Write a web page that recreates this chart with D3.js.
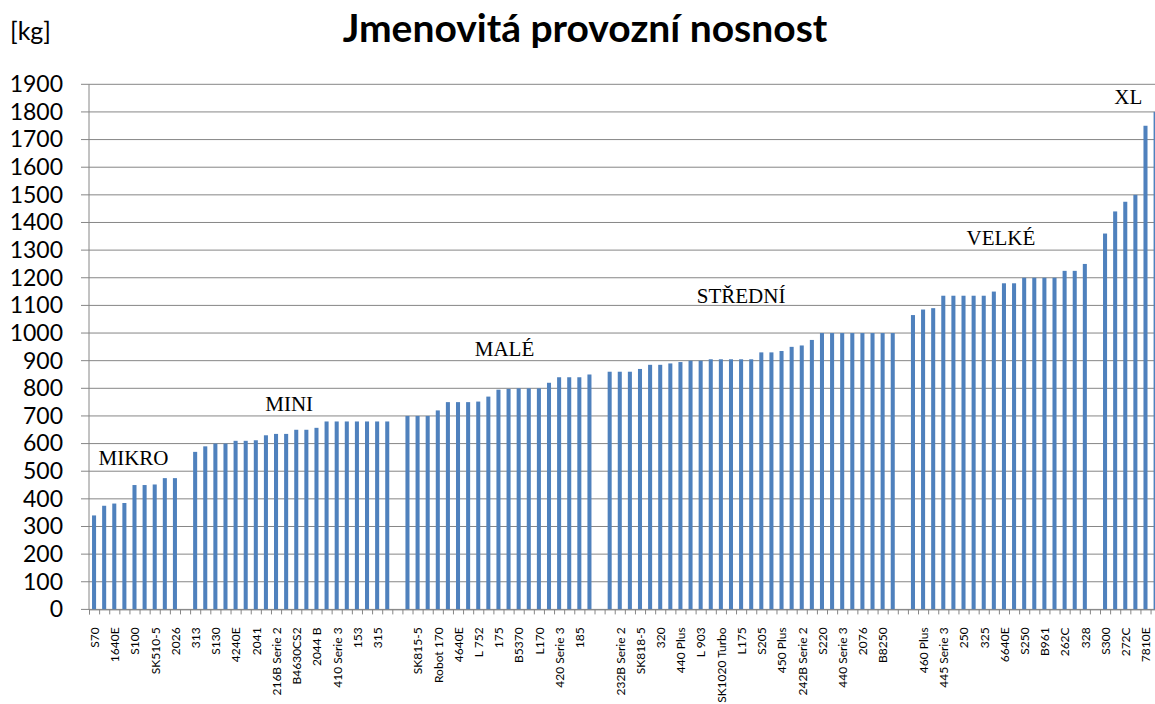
<!DOCTYPE html>
<html>
<head>
<meta charset="utf-8">
<script src="https://cdn.jsdelivr.net/npm/d3@7"></script>
<style>
    body { margin: 0; background: #fff; }
    svg { display: block; font-family: Lato, 'Open Sans', sans-serif; }
</style>
</head>
<body>
<div class="chart"></div>
<script>
// Group names shown above each block of bars
const groupNames = ['MIKRO', 'MINI', 'MALÉ', 'STŘEDNÍ', 'VELKÉ', 'XL']

// Machine names per group ('' where Excel skipped the label)
const mikroNames = ['S70', '', '1640E', '', 'S100', '', 'SK510-5', '', '2026']
const miniNames = ['313', '', 'S130', '', '4240E', '', '2041', '', '216B Serie 2', '', 'B4630CS2', '', '2044 B', '', '410 Serie 3', '', '153', '', '315', '']
const maleNames = ['', 'SK815-5', '', 'Robot 170', '', '4640E', '', 'L 752', '', '175', '', 'B5370', '', 'L170', '', '420 Serie 3', '', '185', '']
const stredniNames = ['', '232B Serie 2', '', 'SK818-5', '', '320', '', '440 Plus', '', 'L 903', '', 'SK1020 Turbo', '', 'L175', '', 'S205', '', '450 Plus', '', '242B Serie 2', '', 'S220', '', '440 Serie 3', '', '2076', '', 'B8250', '']
const velkeNames = ['', '460 Plus', '', '445 Serie 3', '', '250', '', '325', '', '6640E', '', 'S250', '', 'B961', '', '262C', '', '328']
const xlNames = ['S300', '', '272C', '', '7810E', '']

// Rated operating capacity [kg]
const mikroValues = [340, 375, 383, 385, 450, 450, 452, 475, 475]
const miniValues = [570, 590, 600, 600, 610, 610, 612, 630, 635, 635, 650, 650, 657, 680, 680, 680, 680, 680, 680, 680]
const maleValues = [700, 700, 700, 720, 750, 750, 750, 752, 770, 795, 798, 800, 800, 800, 820, 840, 840, 840, 850]
const stredniValues = [860, 860, 860, 870, 885, 885, 890, 895, 900, 900, 905, 905, 905, 905, 905, 930, 930, 935, 950, 955, 975, 1000, 1000, 1000, 1000, 1000, 1000, 1000, 1000]
const velkeValues = [1065, 1085, 1090, 1135, 1135, 1135, 1135, 1135, 1150, 1180, 1180, 1200, 1200, 1200, 1200, 1225, 1225, 1250]
const xlValues = [1360, 1440, 1475, 1500, 1750, 1800]

const yTicks = d3.range(0, 2000, 100)

// where the group captions sit: [slot, kg]
const captionAnchors = [[4.4, 522], [19.8, 718], [41.1, 917], [64.5, 1109], [90.2, 1318], [102.8, 1829]]

const groups = [
    { names: mikroNames, values: mikroValues },
    { names: miniNames, values: miniValues },
    { names: maleNames, values: maleValues },
    { names: stredniNames, values: stredniValues },
    { names: velkeNames, values: velkeValues },
    { names: xlNames, values: xlValues }
]

// one empty category between groups, as in the spreadsheet
const slots = []
groups.forEach((grp, gi) => {
    if (gi > 0) slots.push({ name: '', value: null })
    grp.names.forEach((n, i) => slots.push({ name: n, value: grp.values[i] }))
})

const margin = { top: 84.3, left: 89 }
const slotWidth = 10.11
const width = slots.length * slotWidth
const height = 525.1
const gridColour = '#868686'
const barColour = '#4F81BD'

const svg = d3.select('.chart')
    .append('svg')
    .attr('width', 1155)
    .attr('height', 704)

svg.append('text')
    .attr('x', 585)
    .attr('y', 42)
    .attr('text-anchor', 'middle')
    .style('font-size', '39px')
    .style('font-weight', 'bold')
    .text('Jmenovitá provozní nosnost')

svg.append('text')
    .attr('x', 10)
    .attr('y', 40)
    .style('font-size', '25px')
    .text('[kg]')

const canvas = svg.append('g')
    .attr('transform', `translate(${margin.left}, ${margin.top})`)

const xScale = d3.scaleBand()
    .domain(d3.range(slots.length))
    .range([0, width])
    .paddingInner(0.6)
    .paddingOuter(0.3)

const yScale = d3.scaleLinear()
    .domain([0, 1900])
    .range([height, 0])

// gridlines
canvas.append('g')
    .selectAll('line')
    .data(yTicks)
    .enter().append('line')
    .attr('x1', -8)
    .attr('x2', width)
    .attr('y1', d => yScale(d))
    .attr('y2', d => yScale(d))
    .style('stroke', gridColour)
    .style('stroke-width', 1)

// y axis
const gY = canvas.append('g')
    .call(d3.axisLeft(yScale).tickValues(yTicks).tickSize(0).tickPadding(26).tickFormat(d3.format('d')))
gY.select('.domain').remove()
gY.selectAll('text').style('font-size', '23px').style('fill', '#000').style('font-family', 'Lato, sans-serif')
canvas.append('line')
    .attr('x1', 0).attr('x2', 0)
    .attr('y1', yScale(1900)).attr('y2', height)
    .style('stroke', gridColour)

// bars
canvas.append('g')
    .selectAll('rect')
    .data(slots.map((s, i) => ({ ...s, i })).filter(s => s.value !== null))
    .enter().append('rect')
    .attr('x', d => xScale(d.i))
    .attr('width', xScale.bandwidth())
    .attr('y', d => yScale(d.value))
    .attr('height', d => height - yScale(d.value))
    .style('fill', barColour)

// category ticks between slots
const tickScale = d3.scaleLinear().domain([0, slots.length]).range([0, width])
const gTicks = canvas.append('g')
    .attr('transform', `translate(0, ${height})`)
    .call(d3.axisBottom(tickScale).tickValues(d3.range(slots.length + 1)).tickSize(5).tickFormat(''))
gTicks.select('.domain').style('stroke', gridColour)
gTicks.selectAll('.tick line').style('stroke', gridColour)

// category labels
const gX = canvas.append('g')
    .attr('transform', `translate(0, ${height})`)
    .call(d3.axisBottom(xScale).tickSize(0).tickFormat(i => slots[i].name))
gX.select('.domain').remove()
gX.selectAll('text')
    .attr('transform', 'rotate(-90)')
    .attr('x', -18)
    .attr('y', 0)
    .attr('dy', '0.4em')
    .style('text-anchor', 'end')
    .style('font-size', '12px')
    .style('font-family', 'Lato, sans-serif')
    .style('fill', '#000')

// group captions
const slotX = d3.scaleLinear().domain([0, slots.length]).range([0, width])
canvas.append('g')
    .selectAll('text')
    .data(groupNames)
    .enter().append('text')
    .attr('x', (d, i) => slotX(captionAnchors[i][0]))
    .attr('y', (d, i) => yScale(captionAnchors[i][1]))
    .attr('text-anchor', 'middle')
    .style('font-family', "'Liberation Serif', 'Times New Roman', serif")
    .style('font-size', '21px')
    .text(d => d)
</script>
</body>
</html>
